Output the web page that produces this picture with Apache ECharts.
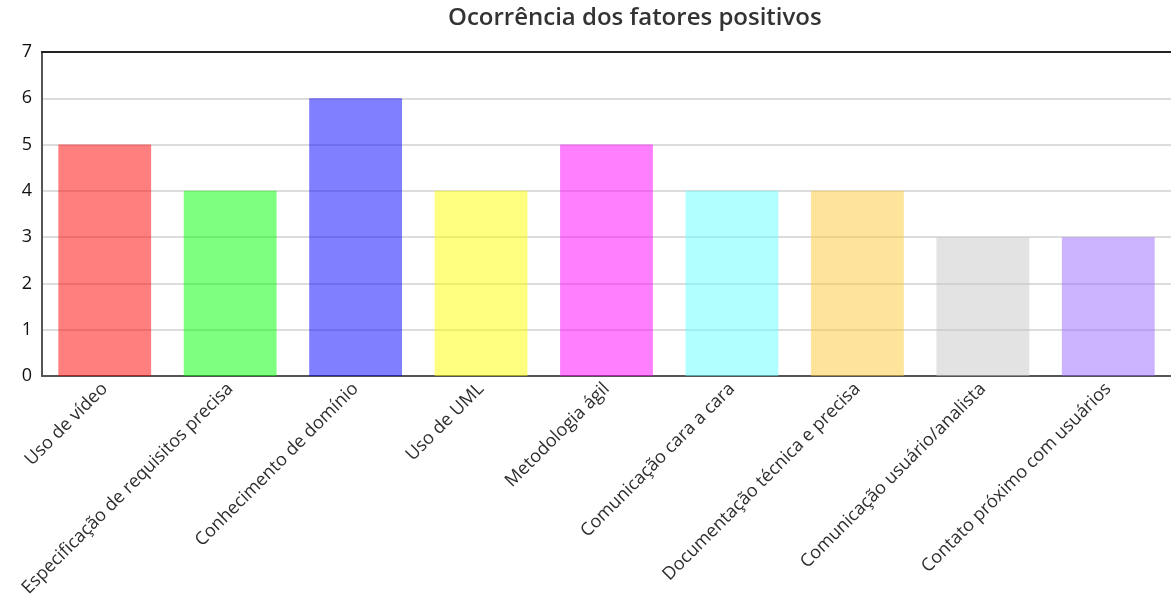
<!DOCTYPE html>
<html style="height: 100%">
<head>
    <meta charset="utf-8">
</head>
<body style="height: 100%; margin: 0">
<div id="container" style="width: 1171px; height: 609px"></div>
<script type="text/javascript" src="https://cdn.jsdelivr.net/npm/echarts@6/dist/echarts.min.js"></script>
<script type="text/javascript">
  const fatores = [
    'Uso de vídeo',
    'Especificação de requisitos precisa',
    'Conhecimento de domínio',
    'Uso de UML',
    'Metodologia ágil',
    'Comunicação cara a cara',
    'Documentação técnica e precisa',
    'Comunicação usuário/analista',
    'Contato próximo com usuários'
  ];
  const ocorrencias = [5, 4, 6, 4, 5, 4, 4, 3, 3];
  const cores = [
    'rgba(255,0,0,0.5)',
    'rgba(0,255,0,0.5)',
    'rgba(0,0,255,0.5)',
    'rgba(255,255,0,0.5)',
    'rgba(255,0,255,0.5)',
    'rgba(100,255,255,0.5)',
    'rgba(252,201,53,0.5)',
    'rgba(200,200,200,0.5)',
    'rgba(151,103,255,0.5)'
  ];

  var dom = document.getElementById("container");
  var myChart = echarts.init(dom);
  var option = {
    animation: false,
    textStyle: { fontFamily: 'Open Sans' },
    title: {
      text: 'Ocorrência dos fatores positivos',
      left: 443,
      top: 1,
      textStyle: { fontFamily: 'Open Sans', fontSize: 24, fontWeight: 600, color: '#333' }
    },
    grid: { left: 42, right: 0, top: 52, bottom: 233, containLabel: false },
    xAxis: [
      {
        type: 'category',
        data: fatores,
        axisLine: { lineStyle: { color: '#555', width: 2 } },
        axisTick: { show: false },
        axisLabel: {
          rotate: 45,
          interval: 0,
          margin: 10,
          fontSize: 18,
          color: '#2e2e2e',
          fontFamily: 'Open Sans'
        }
      },
      {
        type: 'category',
        position: 'top',
        data: fatores,
        axisLine: { lineStyle: { color: '#222', width: 2 } },
        axisTick: { show: false },
        axisLabel: { show: false }
      }
    ],
    yAxis: {
      type: 'value',
      min: 0,
      max: 7,
      interval: 1,
      axisLine: { show: true, lineStyle: { color: '#555', width: 2 } },
      axisTick: { show: false },
      axisLabel: { fontSize: 18, color: '#111', margin: 10, fontFamily: 'Open Sans' },
      splitLine: { lineStyle: { color: '#d0d0d0', width: 1.5 } }
    },
    series: [
      {
        type: 'bar',
        barCategoryGap: '26%',
        data: ocorrencias.map(function (v, i) {
          return { value: v, itemStyle: { color: cores[i] } };
        })
      }
    ]
  };
  myChart.setOption(option);
</script>
</body>
</html>
